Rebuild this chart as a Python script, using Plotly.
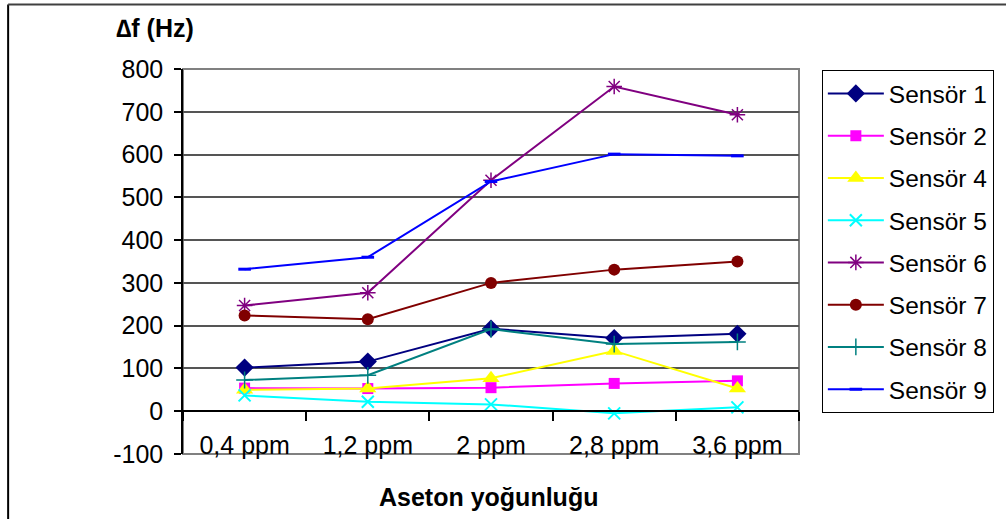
import plotly.graph_objects as go

# Acetone concentration categories
categories = ["0,4 ppm", "1,2 ppm", "2 ppm", "2,8 ppm", "3,6 ppm"]

# Frequency shift (Hz) per sensor
sensor_1 = [102, 116, 193, 171, 181]
sensor_2 = [54, 53, 55, 65, 71]
sensor_4 = [50, 53, 77, 141, 53]
sensor_5 = [37, 22, 16, -5, 9]
sensor_6 = [247, 277, 540, 759, 693]
sensor_7 = [224, 215, 300, 331, 350]
sensor_8 = [73, 84, 192, 157, 162]
sensor_9 = [332, 360, 537, 601, 597]

y_tick_values = [-100, 0, 100, 200, 300, 400, 500, 600, 700, 800]
y_tick_labels = ["-100", "0", "100", "200", "300", "400", "500", "600", "700", "800"]

FONT = "Liberation Sans, Arial, sans-serif"
FS = 25
W, H = 1006, 519
L, R, T, B = 183, 203, 69, 65
PW, PH = W - L - R, H - T - B
Y_MIN, Y_MAX = -100, 800


def px_x(px):
    return (px - L) / PW


def px_y(py):
    return (H - B - py) / PH


series = [
    ("Sensör 1", sensor_1, "#000080", dict(symbol="diamond", size=14)),
    ("Sensör 2", sensor_2, "#FF00FF", dict(symbol="square", size=11)),
    ("Sensör 4", sensor_4, "#FFFF00", dict(symbol="triangle-up", size=15)),
    ("Sensör 5", sensor_5, "#00FFFF", dict(symbol="x-thin", size=12, line=dict(width=2, color="#00FFFF"))),
    ("Sensör 6", sensor_6, "#800080", dict(symbol="asterisk", size=13, line=dict(width=1.5, color="#800080"))),
    ("Sensör 7", sensor_7, "#800000", dict(symbol="circle", size=12)),
    ("Sensör 8", sensor_8, "#008080", dict(symbol="cross-thin", size=12, line=dict(width=1.5, color="#008080"))),
    ("Sensör 9", sensor_9, "#0000FF", dict(symbol="line-ew", size=9, line=dict(width=3, color="#0000FF"))),
]

fig = go.Figure()
for name, values, color, marker in series:
    marker = dict(marker, color=color)
    fig.add_trace(go.Scatter(
        x=categories, y=values, name=name, mode="lines+markers",
        line=dict(color=color, width=2), marker=marker,
        legendgroup=name,
    ))

fig.update_layout(
    width=W, height=H,
    margin=dict(l=L, r=R, t=T, b=B, pad=0),
    paper_bgcolor="white", plot_bgcolor="white",
    font=dict(family=FONT, size=FS, color="black"),
    showlegend=True,
    legend=dict(
        x=px_x(826), y=px_y(70), xanchor="left", yanchor="top",
        bordercolor="black", borderwidth=1, bgcolor="white",
        font=dict(family=FONT, size=24.5, color="black"),
        tracegroupgap=7.4, itemwidth=56,
    ),
    xaxis=dict(
        type="category", range=[-0.5, 4.5],
        anchor="free", position=(0 - Y_MIN) / (Y_MAX - Y_MIN),
        showgrid=False, zeroline=False,
        showline=True, linecolor="black", linewidth=1.5,
        ticks="outside", ticklen=9, tickcolor="black", tickwidth=1.5,
        tickson="boundaries", ticklabelstandoff=12,
        tickfont=dict(family=FONT, size=FS, color="black"),
    ),
    yaxis=dict(
        range=[Y_MIN, Y_MAX], tickvals=y_tick_values, ticktext=y_tick_labels,
        showgrid=True, gridcolor="#555555", gridwidth=1.5, zeroline=False,
        showline=True, linecolor="black", linewidth=1.5,
        ticks="outside", ticklen=7, tickcolor="black", tickwidth=1.5,
        ticklabelstandoff=6,
        tickfont=dict(family=FONT, size=FS, color="black"),
    ),
    shapes=[
        # plot area border
        dict(type="rect", xref="paper", yref="paper", x0=0, x1=1, y0=0, y1=1,
             line=dict(color="#808080", width=2), layer="below"),
        # chart area border
        dict(type="line", xref="paper", yref="paper",
             x0=px_x(7), x1=px_x(7), y0=px_y(4.5), y1=px_y(530),
             line=dict(color="black", width=2)),
        dict(type="line", xref="paper", yref="paper",
             x0=px_x(7), x1=px_x(1015), y0=px_y(4.5), y1=px_y(4.5),
             line=dict(color="#404040", width=2)),
    ],
    annotations=[
        dict(text="<b>∆f (Hz)</b>", xref="paper", yref="paper",
             x=px_x(155), y=px_y(28.5), xanchor="center", yanchor="middle",
             showarrow=False, font=dict(family=FONT, size=FS, color="black")),
        dict(text="<b>Aseton yoğunluğu</b>", xref="paper", yref="paper",
             x=px_x(490.5), y=px_y(497), xanchor="center", yanchor="middle",
             showarrow=False, font=dict(family=FONT, size=FS, color="black")),
    ],
)

fig.write_html("out.html")
